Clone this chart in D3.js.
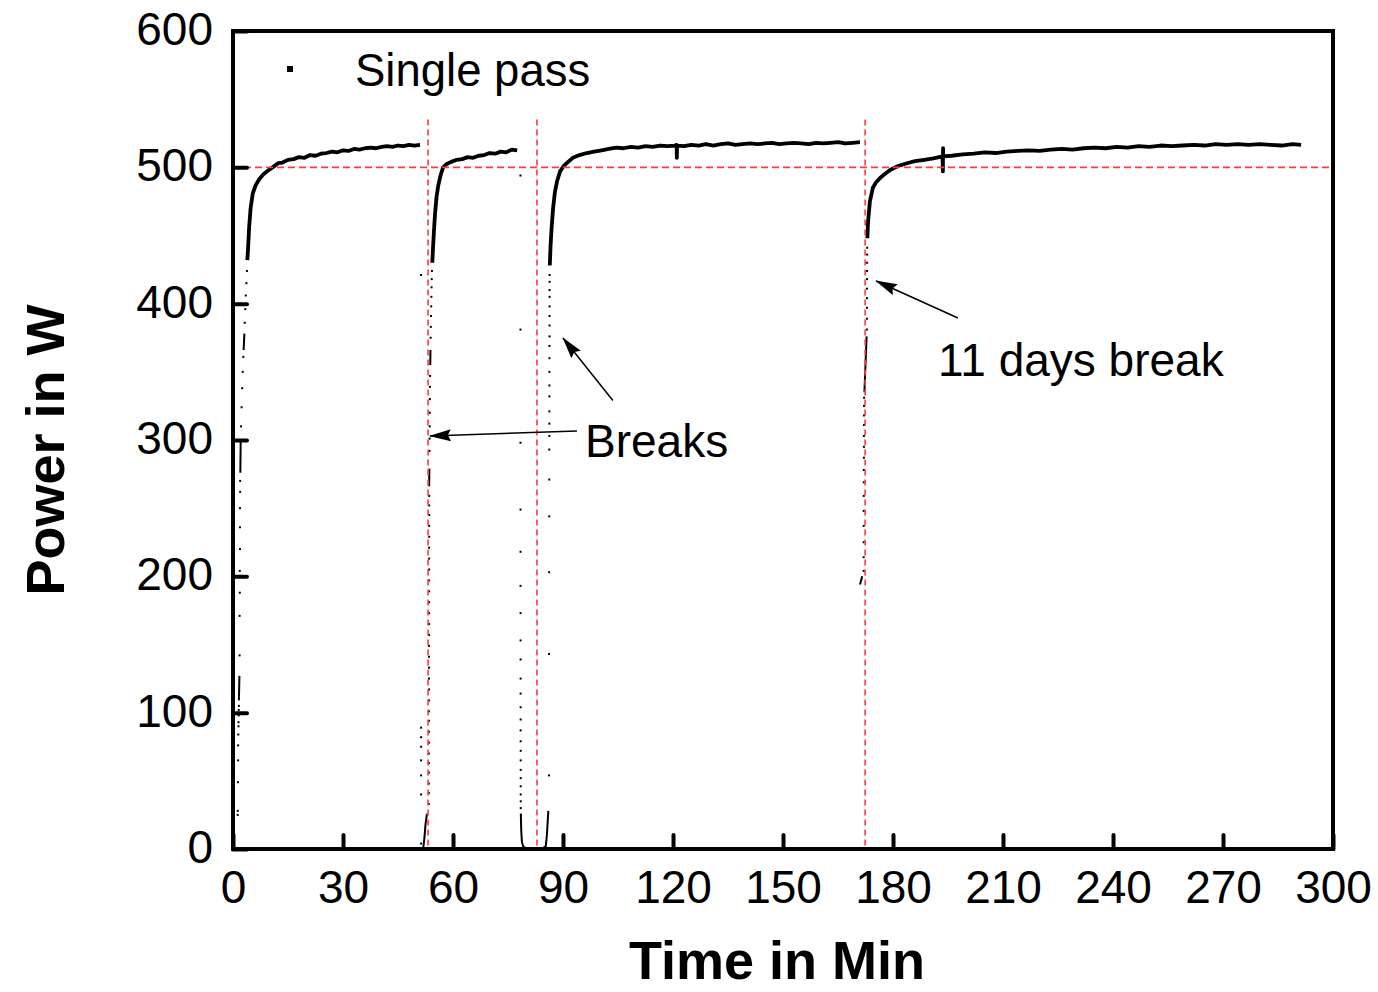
<!DOCTYPE html>
<html>
<head>
<meta charset="utf-8">
<script src="https://cdn.jsdelivr.net/npm/d3@7"></script>
<style>
  body { margin: 0; background: #fff; }
  svg { display: block; font-family: "Liberation Sans", Arial, sans-serif; }
</style>
</head>
<body>
<div id="graf"></div>
<script>
// ---- datos (tiempo en min, potencia en W) ----
const xTicks = [0, 30, 60, 90, 120, 150, 180, 210, 240, 270, 300];
const yTicks = [0, 100, 200, 300, 400, 500, 600];

// tramo 1
const dots1Time = [1.3, 1.3, 1.35, 1.4, 1.4, 1.45, 1.5, 1.5, 1.55, 1.55, 1.6, 1.8, 1.8, 1.85, 1.85, 1.9, 1.9, 1.9, 1.95, 1.95, 2.2, 2.35, 2.5, 2.65, 2.8, 3.2, 3.35, 3.5, 3.65, 3.8];
const dots1Power = [25, 28, 49, 65, 76, 84, 90, 93, 98, 102, 105, 142, 171, 188, 204, 220, 236, 250, 262, 270, 310, 324, 338, 350, 361, 386, 396, 406, 415, 424];
const pieceATime = [1.6, 1.68, 1.75];
const pieceAPower = [109, 118, 127];
const pieceBTime = [2.0, 2.05, 2.1];
const pieceBPower = [276, 288, 300];
const pieceCTime = [2.9, 3.0, 3.1];
const pieceCPower = [366, 372, 378];
const run1Time = [3.9, 4.1, 4.4, 4.8, 5.4, 6.2, 7.2, 8.3, 9.5, 10.8, 12.3, 13.5, 15, 16.5, 18, 19.5, 21, 22.5, 24, 25.5, 27, 28.5, 30, 31.5, 33, 34.5, 36, 37.5, 39, 40.5, 42, 43.5, 45, 46.5, 48, 49.5, 51];
const run1Power = [432, 440, 456, 470, 481, 487, 491.5, 495, 497.5, 500, 503, 503.5, 505.5, 506, 507.5, 507, 509, 508.5, 510, 510.5, 511.5, 511, 512.5, 512, 513.5, 513, 514, 514.5, 514, 515, 515.5, 515, 516, 515.5, 516.5, 516, 516.5];

// tramo 2
const stray2Time = [51.3, 51.3, 51.3, 51.3, 51.3, 51.3, 51.3, 51.3];
const stray2Power = [421, 89, 82, 75, 65, 54, 40, 4];
const pieceDTime = [51.9, 52.2, 52.5, 52.9];
const pieceDPower = [1, 8, 18, 26];
const dots2Time = [53.4, 53.4, 53.4, 53.42, 53.42, 53.42, 53.43, 53.43, 53.44, 53.44, 53.45, 53.45, 53.45, 53.46, 53.46, 53.46, 53.47, 53.47, 53.47, 53.48, 53.48, 53.48, 53.49, 53.49, 53.49, 53.5, 53.5, 53.5, 53.5, 53.5];
const dots2Power = [33, 41, 48, 56, 63, 70, 78, 86, 94, 101, 109, 117, 125, 133, 141, 149, 157, 165, 173, 181, 189, 197, 205, 213, 221, 229, 237, 245, 252, 259];
const pieceETime = [53.5, 53.55];
const pieceEPower = [266, 279];
const dots2bTime = [53.6, 53.62, 53.65, 53.68, 53.7, 53.72, 53.75, 53.9, 53.95, 54.0, 54.05, 54.1, 54.15, 54.2, 54.25];
const dots2bPower = [292, 301, 310, 320, 330, 339, 347, 375, 383, 391, 398, 405, 412, 418, 424];
const pieceFTime = [53.8, 53.85];
const pieceFPower = [355, 366];
const run2Time = [54.35, 54.55, 54.8, 55.1, 55.5, 56.0, 56.6, 57.3, 58.3, 59.5, 61, 62.5, 64, 65.5, 67, 68.5, 70, 71.5, 73, 74.5, 76, 77.5];
const run2Power = [430, 441, 453, 466, 478, 487, 494, 500, 502.5, 504, 505.5, 506, 507.5, 507, 508.5, 509, 510.5, 510, 511.5, 511, 513, 512.5];

// caida y tramo 3
const fallTime = [78.4, 78.4, 78.4, 78.42, 78.42, 78.42, 78.43, 78.43, 78.43, 78.44, 78.44, 78.44, 78.45, 78.45, 78.45, 78.46, 78.46, 78.46, 78.47, 78.47, 78.47, 78.48, 78.48];
const fallPower = [494, 381, 298, 249, 218, 193, 173, 153, 139, 125, 114, 104, 95, 87, 79, 72, 65, 58, 52, 46, 40, 35, 30];
const bottomTime = [78.5, 78.6, 78.8, 79.2, 80, 81.5, 83, 84.5, 85.3, 85.6, 85.8, 86.0];
const bottomPower = [26, 14, 5, 1.5, 0.6, 0.5, 0.5, 0.6, 2, 10, 19, 28];
const dots3Time = [86.2, 86.2, 86.22, 86.24, 86.25, 86.26, 86.27, 86.28, 86.28, 86.29, 86.3, 86.3, 86.31, 86.31, 86.32, 86.32, 86.33, 86.33, 86.34, 86.34, 86.35, 86.35];
const dots3Power = [54, 143, 203, 244, 271, 293, 303, 312, 321, 332, 340, 350, 360, 369, 376, 384, 391, 398, 405, 410, 416, 421];
const run3Time = [86.4, 86.6, 86.9, 87.3, 87.8, 88.4, 89.2, 90.2, 91.4, 92.7, 94.5, 96.5, 98.5, 100.5, 102.5, 104.5, 106.5, 108.5, 110.5, 112.5, 114.5, 116.5, 118.5, 120.5, 121.0, 121.05, 121.1, 123, 125, 127, 129, 131, 133, 135, 137, 139, 141, 143, 145, 147, 149, 151, 153, 155, 157, 159, 161, 163, 165, 167, 169, 171];
const run3Power = [428, 442, 456, 470, 482, 490, 497, 501, 504, 507, 509, 510.5, 511.5, 512.5, 513.5, 514.5, 514, 515, 514.5, 515.5, 515, 516, 515.5, 516, 516.5, 507, 516, 515.5, 516.5, 516, 517, 516, 517, 517.5, 516.5, 517, 517.5, 517, 517.5, 518, 517, 517.5, 518, 517.5, 517, 518, 517.5, 518, 518.5, 517.5, 518, 518.5];

// tramo 4 (despues de 11 dias)
const pieceGTime = [171.0, 171.3, 171.6];
const pieceGPower = [194, 197, 200];
const dots4Time = [172.0, 172.0, 172.0, 172.02, 172.02, 172.03, 172.04, 172.05, 172.06, 172.07, 172.08, 172.09, 172.1, 172.1, 172.12, 172.88, 172.88, 172.9, 172.9, 172.9, 172.92, 172.93, 172.94, 172.95, 172.96];
const dots4Power = [204, 214, 225, 237, 248, 259, 269, 278, 287, 295, 303, 311, 318, 325, 331, 381, 389, 397, 404, 411, 418, 424, 430, 436, 441];
const pieceHTime = [172.2, 172.5, 172.8];
const pieceHPower = [335, 355, 376];
const run4Time = [173.0, 173.2, 173.7, 174.5, 175.4, 176.4, 177.7, 179.2, 181.4, 183.8, 186, 188.5, 191, 193.5, 193.6, 193.65, 193.7, 196, 199, 202, 205, 208, 211, 214, 217, 220, 223, 226, 229, 232, 235, 238, 241, 244, 247, 250, 253, 256, 259, 262, 265, 268, 271, 274, 277, 280, 283, 286, 289, 291.3];
const run4Power = [448, 460, 475, 485, 489, 492, 495, 498, 501, 503, 504.5, 505.5, 506.5, 508, 497, 514, 508, 508.5, 509.5, 510, 511, 510.5, 511.5, 512, 512.5, 512, 513, 513.5, 513, 514, 514.5, 514, 515, 514.5, 515.5, 515, 516, 515.5, 516, 516.5, 516, 517, 516.5, 517, 516.5, 517, 516.5, 516, 517, 516.5];

// lineas de referencia
const breakTimes = [53.2, 82.9, 172.4];
const breakTop = 535;
const refPower = 500;

// flechas y textos
const arrowFromTime = [93.8, 103.6, 197.7];
const arrowFromPower = [306.6, 329, 389.5];
const arrowToTime = [53.7, 90.0, 175.4];
const arrowToPower = [303, 374.8, 416.6];
const noteText = ["Breaks", "11 days break"];
const noteTime = [96, 192.3];
const notePower = [287.5, 347];

// ---- grafica ----
const anchoTotal = 1378;
const altoTotal = 992;
const margins = { top: 31, right: 45, bottom: 143, left: 233 };
const ancho = anchoTotal - margins.left - margins.right;
const alto = altoTotal - margins.top - margins.bottom;

const svg = d3.select("#graf")
  .append("svg")
  .attr("width", anchoTotal)
  .attr("height", altoTotal);

const g = svg.append("g")
  .attr("transform", `translate(${margins.left}, ${margins.top})`);

const x = d3.scaleLinear().domain([0, 300]).range([0, ancho]);
const y = d3.scaleLinear().domain([0, 600]).range([alto, 0]);

const line = d3.line()
  .x((d) => x(d[0]))
  .y((d) => y(d[1]));

// punta de flecha
svg.append("defs")
  .append("marker")
  .attr("id", "flecha")
  .attr("viewBox", "0 0 22 12")
  .attr("refX", 21)
  .attr("refY", 6)
  .attr("markerWidth", 22)
  .attr("markerHeight", 12)
  .attr("markerUnits", "userSpaceOnUse")
  .attr("orient", "auto")
  .append("path")
  .attr("d", "M0,0 L22,6 L0,12 L3,6 Z")
  .attr("fill", "#000");

// curvas continuas
const runs = [
  [run1Time, run1Power], [run2Time, run2Power], [run3Time, run3Power], [run4Time, run4Power]
];
const pieces = [
  [pieceATime, pieceAPower], [pieceBTime, pieceBPower], [pieceCTime, pieceCPower],
  [pieceDTime, pieceDPower], [pieceETime, pieceEPower], [pieceFTime, pieceFPower],
  [bottomTime, bottomPower], [pieceGTime, pieceGPower], [pieceHTime, pieceHPower]
];
const dotSets = [
  [dots1Time, dots1Power], [stray2Time, stray2Power], [dots2Time, dots2Power],
  [dots2bTime, dots2bPower], [fallTime, fallPower], [dots3Time, dots3Power], [dots4Time, dots4Power]
];

g.selectAll(".run")
  .data(runs.map((r) => d3.zip(r[0], r[1])))
  .join("path")
  .attr("class", "run")
  .attr("d", line)
  .attr("fill", "none")
  .attr("stroke", "#000")
  .attr("stroke-width", 3.8)
  .attr("stroke-linejoin", "round");

g.selectAll(".piece")
  .data(pieces.map((r) => d3.zip(r[0], r[1])))
  .join("path")
  .attr("class", "piece")
  .attr("d", line)
  .attr("fill", "none")
  .attr("stroke", "#000")
  .attr("stroke-width", 2);

const dots = dotSets.flatMap((s) => d3.zip(s[0], s[1]));
g.selectAll(".dot")
  .data(dots)
  .join("rect")
  .attr("class", "dot")
  .attr("x", (d) => x(d[0]) - 1)
  .attr("y", (d) => y(d[1]) - 1)
  .attr("width", 2)
  .attr("height", 2)
  .attr("fill", "#000");

// lineas rojas punteadas
g.append("line")
  .attr("x1", x(0))
  .attr("x2", x(300))
  .attr("y1", y(refPower))
  .attr("y2", y(refPower))
  .attr("stroke", "#ff3b3b")
  .attr("stroke-width", 1.6)
  .attr("stroke-dasharray", "7,4");

g.selectAll(".brk")
  .data(breakTimes)
  .join("line")
  .attr("class", "brk")
  .attr("x1", (d) => x(d))
  .attr("x2", (d) => x(d))
  .attr("y1", y(breakTop))
  .attr("y2", y(0))
  .attr("stroke", "#ff3b3b")
  .attr("stroke-width", 1.6)
  .attr("stroke-dasharray", "6,4");

// ejes
const yAxis = d3.axisLeft(y).tickValues(yTicks).tickSize(-14).tickPadding(20);
const xAxis = d3.axisBottom(x).tickValues(xTicks).tickSize(-14).tickPadding(21);

const yAxisGroup = g.append("g").call(yAxis);
const xAxisGroup = g.append("g").attr("transform", `translate(0, ${alto})`).call(xAxis);

[yAxisGroup, xAxisGroup].forEach((ax) => {
  ax.attr("font-family", null).attr("font-size", null);
  ax.select(".domain").remove();
  ax.selectAll(".tick line")
    .attr("stroke", "#000")
    .attr("stroke-width", 4)
    .attr("stroke-linecap", "round");
  ax.selectAll(".tick text")
    .attr("fill", "#000")
    .attr("style", "font-size:46px");
});
yAxisGroup.selectAll(".tick text").attr("dy", "0.29em");

// marco
g.append("rect")
  .attr("width", ancho)
  .attr("height", alto)
  .attr("fill", "none")
  .attr("stroke", "#000")
  .attr("stroke-width", 4);

// flechas
g.selectAll(".arrow")
  .data(d3.range(arrowFromTime.length))
  .join("line")
  .attr("class", "arrow")
  .attr("x1", (i) => x(arrowFromTime[i]))
  .attr("y1", (i) => y(arrowFromPower[i]))
  .attr("x2", (i) => x(arrowToTime[i]))
  .attr("y2", (i) => y(arrowToPower[i]))
  .attr("stroke", "#000")
  .attr("stroke-width", 1.5)
  .attr("marker-end", "url(#flecha)");

g.selectAll(".note")
  .data(noteText)
  .join("text")
  .attr("class", "note")
  .attr("x", (d, i) => x(noteTime[i]))
  .attr("y", (d, i) => y(notePower[i]))
  .attr("style", "font-size:46px")
  .text((d) => d);

// leyenda
g.append("rect")
  .attr("x", 54)
  .attr("y", 35)
  .attr("width", 6)
  .attr("height", 6)
  .attr("fill", "#000");
g.append("text")
  .attr("x", 122)
  .attr("y", 55)
  .attr("style", "font-size:45.5px")
  .text("Single pass");

// titulos de ejes
svg.append("text")
  .attr("transform", "translate(64, 450) rotate(-90)")
  .attr("text-anchor", "middle")
  .attr("style", "font-size:54px; font-weight:bold")
  .text("Power in W");

svg.append("text")
  .attr("x", 777)
  .attr("y", 979)
  .attr("text-anchor", "middle")
  .attr("style", "font-size:54px; font-weight:bold")
  .text("Time in Min");
</script>
</body>
</html>
